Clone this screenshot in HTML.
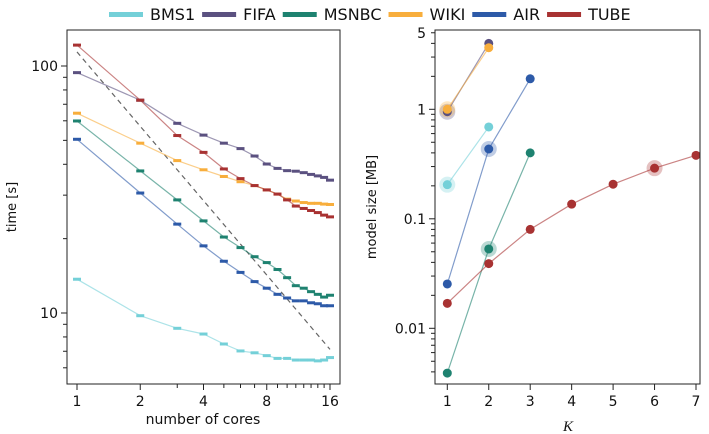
<!DOCTYPE html>
<html><head><meta charset="utf-8"><style>
body{margin:0;background:#fff;}
svg{display:block;font-family:"DejaVu Sans","Liberation Sans",sans-serif;}
</style></head><body>
<svg id="c" width="709" height="434" viewBox="0 0 709 434" xmlns="http://www.w3.org/2000/svg"></svg>
<script>
const seriesNames=["BMS1","FIFA","MSNBC","WIKI","AIR","TUBE"];
const colors=["#74d0d8","#5b5180","#1e8270","#f8ae3c","#2d5aa8","#a83232"];
const cores=[1,2,3,4,5,6,7,8,9,10,11,12,13,14,15,16];
const timeBMS1=[13.7,9.75,8.67,8.22,7.49,7.02,6.9,6.72,6.55,6.55,6.45,6.45,6.45,6.4,6.45,6.6];
const timeFIFA=[94,72.7,58.6,52.5,48.7,46.3,43.2,40.1,38.5,37.7,37.5,37,36.4,35.9,35.4,34.5];
const timeMSNBC=[59.9,37.6,28.7,23.6,20.3,18.4,16.9,16.0,15.0,13.9,12.9,12.6,12.2,11.9,11.6,11.8];
const timeWIKI=[64.4,48.7,41.4,38,35.7,34.0,32.8,31.5,30.3,28.9,28.4,28.0,27.8,27.8,27.6,27.5];
const timeAIR=[50.5,30.6,22.9,18.7,16.2,14.6,13.4,12.6,11.9,11.5,11.2,11.2,11.0,10.9,10.7,10.7];
const timeTUBE=[121.5,72.7,52.3,44.7,38.3,35,32.8,31.5,30.3,28.7,27.1,26.5,26,25.5,24.9,24.5];
const idealStart=114;
const xTickLabels=[1,2,4,8,16];
const yTickLeft=[10,100];
const Kvals=[1,2,3,4,5,6,7];
const sizeBMS1=[0.205,0.69];
const sizeFIFA=[0.95,4.0];
const sizeMSNBC=[0.0039,0.053,0.40];
const sizeWIKI=[1.0,3.65];
const sizeAIR=[0.0254,0.434,1.9];
const sizeTUBE=[0.0169,0.039,0.080,0.136,0.207,0.29,0.38];
const bestK=[1,1,2,1,2,6];
const yTickRight=[0.01,0.1,1,5];
const yTickRightLabels=["0.01","0.1","1","5"];

const svg=document.getElementById('c');
const NS="http://www.w3.org/2000/svg";
function mk(tag,attrs,parent){const e=document.createElementNS(NS,tag);for(const k in attrs)e.setAttribute(k,attrs[k]);(parent||svg).appendChild(e);return e;}
const times=[timeBMS1,timeFIFA,timeMSNBC,timeWIKI,timeAIR,timeTUBE];
const sizes=[sizeBMS1,sizeFIFA,sizeMSNBC,sizeWIKI,sizeAIR,sizeTUBE];

let lx=109;
seriesNames.forEach((n,i)=>{
  const r=mk('rect',{x:lx,y:12,width:34,height:5,fill:colors[i]});
  
  
  const t=mk('text',{x:lx+41,y:20,'font-size':16,fill:'#111'});
  t.textContent=n;
  
  
  lx+=41+t.getComputedTextLength()+7;
});

const L={x0:67,x1:340,y0:30,y1:384};
const lxs=v=>77+Math.log2(v)*63.25;
const lys=v=>313-(Math.log10(v)-1)*247;
const gL=mk('g',{});


const ideal=mk('line',{x1:lxs(1),y1:lys(idealStart),x2:lxs(16),y2:lys(idealStart/16),stroke:'#666','stroke-width':1.2,'stroke-dasharray':'5,4'},gL);


times.forEach((arr,i)=>{
  const pts=arr.map((v,j)=>lxs(cores[j]).toFixed(1)+','+lys(v).toFixed(1)).join(' ');
  const pl=mk('polyline',{points:pts,fill:'none',stroke:colors[i],'stroke-width':1.2,'stroke-opacity':0.6},gL);
  
  
  arr.forEach((v,j)=>{
    const m=mk('rect',{x:lxs(cores[j])-4,y:lys(v)-1.5,width:8,height:3,fill:colors[i]},gL);
    
    
  });
});
const fL=mk('rect',{x:L.x0,y:L.y0,width:L.x1-L.x0,height:L.y1-L.y0,fill:'none',stroke:'#222','stroke-width':1});


cores.forEach(c=>{
  const major=xTickLabels.includes(c);
  mk('line',{x1:lxs(c),y1:L.y1,x2:lxs(c),y2:L.y1+(major?6:4),stroke:'#222'});
});
xTickLabels.forEach(c=>{
  const t=mk('text',{x:lxs(c),y:L.y1+22,'font-size':14,'text-anchor':'middle',fill:'#111'});
  t.textContent=c;
  
  
});
[1,10,100].forEach(d=>{for(let k=1;k<10;k++){const y=lys(k*d);if(y<L.y0||y>L.y1)continue;mk('line',{x1:L.x0,y1:y,x2:L.x0-(k==1?6:4),y2:y,stroke:'#222'});}});
yTickLeft.forEach(v=>{
  const t=mk('text',{x:L.x0-9,y:lys(v)+5,'font-size':14,'text-anchor':'end',fill:'#111'});
  t.textContent=v;
  
  
});
let t1=mk('text',{x:203,y:424,'font-size':14,'text-anchor':'middle',fill:'#111'});t1.textContent='number of cores';


let t2=mk('text',{x:0,y:0,'font-size':13,'text-anchor':'middle',fill:'#111',transform:'translate(16,207) rotate(-90)'});t2.textContent='time [s]';



const R={x0:435,x1:700,y0:30,y1:384};
const rxs=k=>447.3+(k-1)*41.45;
const rys=v=>109.3-Math.log10(v)*109.5;
sizes.forEach((arr,i)=>{
  const b=bestK[i]-1;
  const h=mk('circle',{cx:rxs(Kvals[b]),cy:rys(arr[b]),r:8,fill:colors[i],'fill-opacity':0.3});
  
  
});
sizes.forEach((arr,i)=>{
  const pts=arr.map((v,j)=>rxs(Kvals[j]).toFixed(1)+','+rys(v).toFixed(1)).join(' ');
  const pl=mk('polyline',{points:pts,fill:'none',stroke:colors[i],'stroke-width':1.2,'stroke-opacity':0.6});
  
  
  arr.forEach((v,j)=>{
    const c=mk('circle',{cx:rxs(Kvals[j]),cy:rys(v),r:4.5,fill:colors[i]});
    
    
  });
});
const fR=mk('rect',{x:R.x0,y:R.y0,width:R.x1-R.x0,height:R.y1-R.y0,fill:'none',stroke:'#222','stroke-width':1});


Kvals.forEach(k=>{
  mk('line',{x1:rxs(k),y1:R.y1,x2:rxs(k),y2:R.y1+6,stroke:'#222'});
  const t=mk('text',{x:rxs(k),y:R.y1+22,'font-size':14,'text-anchor':'middle',fill:'#111'});
  t.textContent=k;
  
  
});
[0.001,0.01,0.1,1].forEach(d=>{for(let k=1;k<10;k++){const y=rys(k*d);if(y<R.y0||y>R.y1)continue;mk('line',{x1:R.x0,y1:y,x2:R.x0-(k==1?6:4),y2:y,stroke:'#222'});}});
yTickRight.forEach((v,i)=>{
  const t=mk('text',{x:R.x0-9,y:rys(v)+5,'font-size':14,'text-anchor':'end',fill:'#111'});
  t.textContent=yTickRightLabels[i];
  
  
});
let t3=mk('text',{x:568,y:431,'font-size':15,'font-style':'italic','font-family':'Liberation Serif,serif','text-anchor':'middle',fill:'#111'});t3.textContent='K';


let t4=mk('text',{x:0,y:0,'font-size':13,'text-anchor':'middle',fill:'#111',transform:'translate(376,207) rotate(-90)'});t4.textContent='model size [MB]';


</script>
</body></html>
